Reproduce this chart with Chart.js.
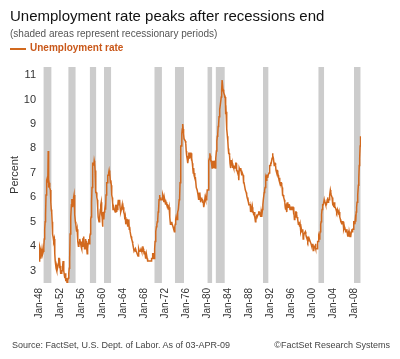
<!DOCTYPE html>
<html>
<head>
<meta charset="utf-8">
<script src="https://cdn.jsdelivr.net/npm/chart.js@4.4.1/dist/chart.umd.min.js"></script>
<style>
body { margin: 0; background: #fff; font-family: Arial, "Liberation Sans", sans-serif; }
#wrap { position: relative; width: 400px; height: 359px; }
.txt { position: absolute; white-space: nowrap; }
</style>
</head>
<body>
<div id="wrap">
  <canvas id="myChart"></canvas>
  <div class="txt" style="left:10px;top:7px;font-size:15px;color:#111;">Unemployment rate peaks after recessions end</div>
  <div class="txt" style="left:10px;top:28px;font-size:10px;color:#555;">(shaded areas represent recessionary periods)</div>
  <div class="txt" style="left:10px;top:48px;width:16px;height:2px;background:#d2691e;"></div>
  <div class="txt" style="left:30px;top:42px;font-size:10px;font-weight:bold;color:#c9581a;">Unemployment rate</div>
  <div class="txt" style="left:12px;top:340px;font-size:9px;color:#444;">Source: FactSet, U.S. Dept. of Labor. As of 03-APR-09</div>
  <div class="txt" style="right:10px;top:340px;font-size:9px;color:#444;">&copy;FactSet Research Systems</div>
</div>
<script>
// monthly unemployment rate, starting Jan 1948
const startYear = 1948;
const rates40s = [3.4,3.8,4.0,3.9,3.5,3.6,3.6,3.9,3.8,3.7,3.8,4.0,
                  4.3,4.7,5.0,5.3,6.1,6.2,6.7,6.8,6.6,7.9,6.4,6.6];
const rates50s = [6.5,6.4,6.3,5.8,5.5,5.4,5.0,4.5,4.4,4.2,4.2,4.3,
                  3.7,3.4,3.4,3.1,3.0,3.2,3.1,3.1,3.3,3.5,3.5,3.1,
                  3.2,3.1,2.9,2.9,3.0,3.0,3.2,3.4,3.1,3.0,2.8,2.7,
                  2.9,2.6,2.6,2.7,2.5,2.5,2.6,2.7,2.9,3.1,3.5,4.5,
                  4.9,5.2,5.7,5.9,5.9,5.6,5.8,6.0,6.1,5.7,5.3,5.0,
                  4.9,4.7,4.6,4.7,4.3,4.2,4.0,4.2,4.1,4.3,4.2,4.2,
                  4.0,3.9,4.2,4.0,4.3,4.3,4.4,4.1,3.9,3.9,4.3,4.2,
                  4.2,3.9,3.7,3.9,4.1,4.3,4.2,4.1,4.4,4.5,5.1,5.2,
                  5.8,6.4,6.7,7.4,7.4,7.3,7.5,7.4,7.1,6.7,6.2,6.2,
                  6.0,5.9,5.6,5.2,5.1,5.0,5.1,5.2,5.5,5.7,5.8,5.3];
const rates60s = [5.2,4.8,5.4,5.2,5.1,5.4,5.5,5.6,5.5,6.1,6.1,6.6,
                  6.6,6.9,6.9,7.0,7.1,6.9,7.0,6.6,6.7,6.5,6.1,6.0,
                  5.8,5.5,5.6,5.6,5.5,5.5,5.4,5.7,5.6,5.4,5.7,5.5,
                  5.7,5.9,5.7,5.7,5.9,5.6,5.6,5.4,5.5,5.5,5.7,5.5,
                  5.6,5.4,5.4,5.3,5.1,5.2,4.9,5.0,5.1,5.1,4.8,5.0,
                  4.9,5.1,4.7,4.8,4.6,4.6,4.4,4.4,4.3,4.2,4.1,4.0,
                  4.0,3.8,3.8,3.8,3.9,3.8,3.8,3.8,3.7,3.7,3.6,3.8,
                  3.9,3.8,3.8,3.8,3.8,3.9,3.8,3.8,3.8,4.0,3.9,3.8,
                  3.7,3.8,3.7,3.5,3.5,3.7,3.7,3.5,3.4,3.4,3.4,3.4,
                  3.4,3.4,3.4,3.4,3.4,3.5,3.5,3.5,3.7,3.7,3.5,3.5];
const rates70s = [3.9,4.2,4.4,4.6,4.8,4.9,5.0,5.1,5.4,5.5,5.9,6.1,
                  5.9,5.9,6.0,5.9,5.9,5.9,6.0,6.1,6.0,5.8,6.0,6.0,
                  5.8,5.7,5.8,5.7,5.7,5.7,5.6,5.6,5.5,5.6,5.3,5.2,
                  4.9,5.0,4.9,5.0,4.9,4.9,4.8,4.8,4.8,4.6,4.8,4.9,
                  5.1,5.2,5.1,5.1,5.1,5.4,5.5,5.5,5.9,6.0,6.6,7.2,
                  8.1,8.1,8.6,8.8,9.0,8.8,8.6,8.4,8.4,8.4,8.3,8.2,
                  7.9,7.7,7.6,7.7,7.4,7.6,7.8,7.8,7.6,7.7,7.8,7.8,
                  7.5,7.6,7.4,7.2,7.0,7.2,6.9,7.0,6.8,6.8,6.8,6.4,
                  6.4,6.3,6.3,6.1,6.0,5.9,6.2,5.9,6.0,5.8,5.9,6.0,
                  5.9,5.9,5.8,5.8,5.6,5.7,5.7,6.0,5.9,6.0,5.9,6.0];
const rates80s = [6.3,6.3,6.3,6.9,7.5,7.6,7.8,7.7,7.5,7.5,7.5,7.2,
                  7.5,7.4,7.4,7.2,7.5,7.5,7.2,7.4,7.6,7.9,8.3,8.5,
                  8.6,8.9,9.0,9.3,9.4,9.6,9.8,9.8,10.1,10.4,10.8,10.8,
                  10.4,10.4,10.3,10.2,10.1,10.1,9.4,9.5,9.2,8.8,8.5,8.3,
                  8.0,7.8,7.8,7.7,7.4,7.2,7.5,7.5,7.3,7.4,7.2,7.3,
                  7.3,7.2,7.2,7.3,7.2,7.4,7.4,7.1,7.1,7.1,7.0,7.0,
                  6.7,7.2,7.2,7.1,7.2,7.2,7.0,6.9,7.0,7.0,6.9,6.6,
                  6.6,6.6,6.6,6.3,6.3,6.2,6.1,6.0,5.9,6.0,5.8,5.7,
                  5.7,5.7,5.7,5.4,5.6,5.4,5.4,5.6,5.4,5.4,5.3,5.3,
                  5.4,5.2,5.0,5.2,5.2,5.3,5.2,5.2,5.3,5.3,5.4,5.4];
const rates90s = [5.4,5.3,5.2,5.4,5.4,5.2,5.5,5.7,5.9,5.9,6.2,6.3,
                  6.4,6.6,6.8,6.7,6.9,6.9,6.8,6.9,6.9,7.0,7.0,7.3,
                  7.3,7.4,7.4,7.4,7.6,7.8,7.7,7.6,7.6,7.3,7.4,7.4,
                  7.3,7.1,7.0,7.1,7.1,7.0,6.9,6.8,6.7,6.8,6.6,6.5,
                  6.6,6.6,6.5,6.4,6.1,6.1,6.1,6.0,5.9,5.8,5.6,5.5,
                  5.6,5.4,5.4,5.8,5.6,5.6,5.7,5.7,5.6,5.5,5.6,5.6,
                  5.6,5.5,5.5,5.6,5.6,5.3,5.5,5.1,5.2,5.2,5.4,5.4,
                  5.3,5.2,5.2,5.1,4.9,5.0,4.9,4.8,4.9,4.7,4.6,4.7,
                  4.6,4.6,4.7,4.3,4.4,4.5,4.5,4.5,4.6,4.5,4.4,4.4,
                  4.3,4.4,4.2,4.3,4.2,4.3,4.3,4.2,4.2,4.1,4.1,4.0];
const rates00s = [4.0,4.1,4.0,3.8,4.0,4.0,4.0,4.1,3.9,3.9,3.9,3.9,
                  4.2,4.2,4.3,4.4,4.3,4.5,4.6,4.9,5.0,5.3,5.5,5.7,
                  5.7,5.7,5.7,5.9,5.8,5.8,5.8,5.7,5.7,5.7,5.9,6.0,
                  5.8,5.9,5.9,6.0,6.1,6.3,6.2,6.1,6.1,6.0,5.8,5.7,
                  5.7,5.6,5.8,5.6,5.6,5.6,5.5,5.4,5.4,5.5,5.4,5.4,
                  5.3,5.4,5.2,5.2,5.1,5.0,5.0,4.9,5.0,5.0,5.0,4.9,
                  4.7,4.8,4.7,4.7,4.6,4.6,4.7,4.7,4.5,4.4,4.5,4.4,
                  4.6,4.5,4.4,4.5,4.4,4.6,4.7,4.6,4.7,4.7,4.7,5.0,
                  5.0,4.9,5.1,5.0,5.4,5.6,5.8,6.1,6.1,6.5,6.8,7.3,
                  7.6,8.1,8.5];

// shaded recession periods (decimal years, as drawn)
const recStart = [1948.83, 1953.56, 1957.64, 1960.36, 1969.93, 1973.84, 1980.02, 1981.59, 1990.61, 2001.12, 2007.92];
const recEnd   = [1950.40, 1954.99, 1958.91, 1961.74, 1971.39, 1975.60, 1980.97, 1983.35, 1991.67, 2002.25, 2009.19];

const tickYears  = [1948,1952,1956,1960,1964,1968,1972,1976,1980,1984,1988,1992,1996,2000,2004,2008];
const tickLabels = ['Jan-48','Jan-52','Jan-56','Jan-60','Jan-64','Jan-68','Jan-72','Jan-76','Jan-80','Jan-84','Jan-88','Jan-92','Jan-96','Jan-00','Jan-04','Jan-08'];
const yTicks = [3,4,5,6,7,8,9,10,11];

const yMin = 2.5, yMax = 11.33;

const allRates = [].concat(rates40s, rates50s, rates60s, rates70s, rates80s, rates90s, rates00s);
const ratePoints = allRates.map((v, i) => ({ x: startYear + i / 12, y: v }));

let recPoints = [];
for (let i = 0; i < recStart.length; i++) {
    recPoints.push({ x: recStart[i], y: yMax });
    recPoints.push({ x: recEnd[i], y: yMax });
    recPoints.push({ x: recEnd[i], y: null });
}

const ctx = document.getElementById('myChart').getContext('2d');
let myChart = new Chart(ctx, {
    type: 'line',
    data: {
        datasets: [{
            label: 'Unemployment rate',
            data: ratePoints,
            borderColor: '#d2691e',
            borderWidth: 1.5,
            pointRadius: 0,
            fill: false,
            tension: 0
        }, {
            label: 'Recession',
            data: recPoints,
            borderWidth: 0,
            borderColor: 'rgba(0,0,0,0)',
            backgroundColor: '#cccccc',
            pointRadius: 0,
            fill: 'start',
            spanGaps: false
        }]
    },
    options: {
        responsive: true,
        maintainAspectRatio: false,
        animation: false,
        layout: { padding: { left: 8, right: 39, top: 67, bottom: 31 } },
        plugins: {
            legend: { display: false },
            tooltip: { enabled: false }
        },
        scales: {
            x: {
                type: 'linear',
                min: 1948,
                max: 2009.25,
                grid: { display: false, drawTicks: false, tickLength: 0 },
                border: { display: false },
                afterBuildTicks: s => { s.ticks = tickYears.map(v => ({ value: v })); },
                afterFit: s => { s.height = 45; },
                ticks: {
                    minRotation: 90,
                    maxRotation: 90,
                    padding: 5,
                    color: '#333',
                    font: { family: 'Arial, "Liberation Sans"', size: 10 },
                    callback: (v) => tickLabels[tickYears.indexOf(v)]
                }
            },
            y: {
                min: yMin,
                max: yMax,
                grid: { display: false, drawTicks: false, tickLength: 0 },
                border: { display: false },
                afterBuildTicks: s => { s.ticks = yTicks.map(v => ({ value: v })); },
                afterFit: s => { s.width = 31; },
                title: {
                    display: true,
                    text: 'Percent',
                    color: '#333',
                    padding: { top: 0, bottom: 0 },
                    font: { family: 'Arial, "Liberation Sans"', size: 11 }
                },
                ticks: {
                    padding: 3,
                    color: '#333',
                    font: { family: 'Arial, "Liberation Sans"', size: 11 }
                }
            }
        }
    }
});
</script>
</body>
</html>
